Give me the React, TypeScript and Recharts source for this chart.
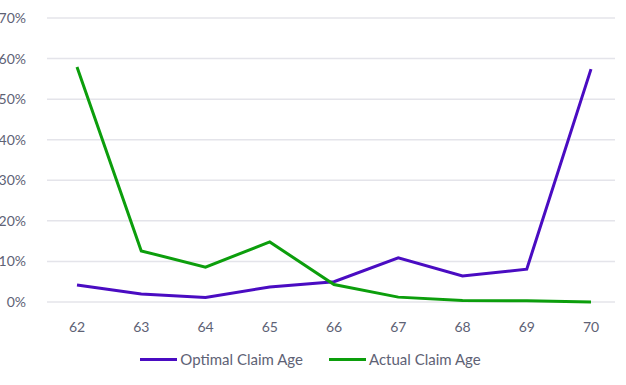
import React from 'react';
import { LineChart, Line, XAxis, YAxis, CartesianGrid, Legend } from 'recharts';

const ages = ['62', '63', '64', '65', '66', '67', '68', '69', '70'];
const optimal = [4.2, 2.0, 1.1, 3.7, 5.0, 10.9, 6.4, 8.1, 57.4];
const actual = [57.9, 12.6, 8.6, 14.8, 4.3, 1.2, 0.4, 0.3, 0.0];
const yTicks = [0, 10, 20, 30, 40, 50, 60, 70];

const PURPLE = '#4A0CC2';
const GREEN = '#0C9E0C';
const TEXT = '#5E6275';

const data = ages.map((age, i) => ({ age, optimal: optimal[i], actual: actual[i] }));

const series = [
    { key: 'optimal', name: 'Optimal Claim Age', color: PURPLE },
    { key: 'actual', name: 'Actual Claim Age', color: GREEN },
];

// legend with thick line swatches, like the original
const CustomLegend = () => (
    <div style={{ display: 'flex', justifyContent: 'center', gap: 26, paddingLeft: 6, paddingTop: 8 }}>
        {series.map((s) => (
            <div key={s.key} style={{ display: 'flex', alignItems: 'center' }}>
                <span style={{ width: 37, height: 3, background: s.color, display: 'inline-block', marginRight: 3 }} />
                <span style={{ color: TEXT, fontSize: 15 }}>{s.name}</span>
            </div>
        ))}
    </div>
);

export default function App() {
    return (
        <div style={{ position: 'absolute', left: 0, top: 0, background: '#fff', fontFamily: 'Lato, "Noto Sans", sans-serif' }}>
            <LineChart width={626} height={385} data={data} margin={{ top: 18, right: 11, bottom: 10, left: 0 }}>
                <CartesianGrid vertical={false} stroke="#E4E4EA" strokeWidth={1.5} />
                <XAxis
                    dataKey="age"
                    axisLine={false}
                    tickLine={false}
                    tick={{ fill: TEXT, fontSize: 14 }}
                    tickMargin={14}
                    padding={{ left: 30, right: 24 }}
                    height={40}
                />
                <YAxis
                    domain={[0, 70]}
                    ticks={yTicks}
                    axisLine={false}
                    tickLine={false}
                    tick={{ fill: TEXT, fontSize: 14 }}
                    tickFormatter={(v) => `${v}%`}
                    tickMargin={15}
                    width={47}
                />
                <Legend verticalAlign="bottom" height={33} content={<CustomLegend />} />
                {series.map((s) => (
                    <Line
                        key={s.key}
                        type="linear"
                        dataKey={s.key}
                        name={s.name}
                        stroke={s.color}
                        strokeWidth={3}
                        dot={false}
                        isAnimationActive={false}
                    />
                ))}
            </LineChart>
        </div>
    );
}
